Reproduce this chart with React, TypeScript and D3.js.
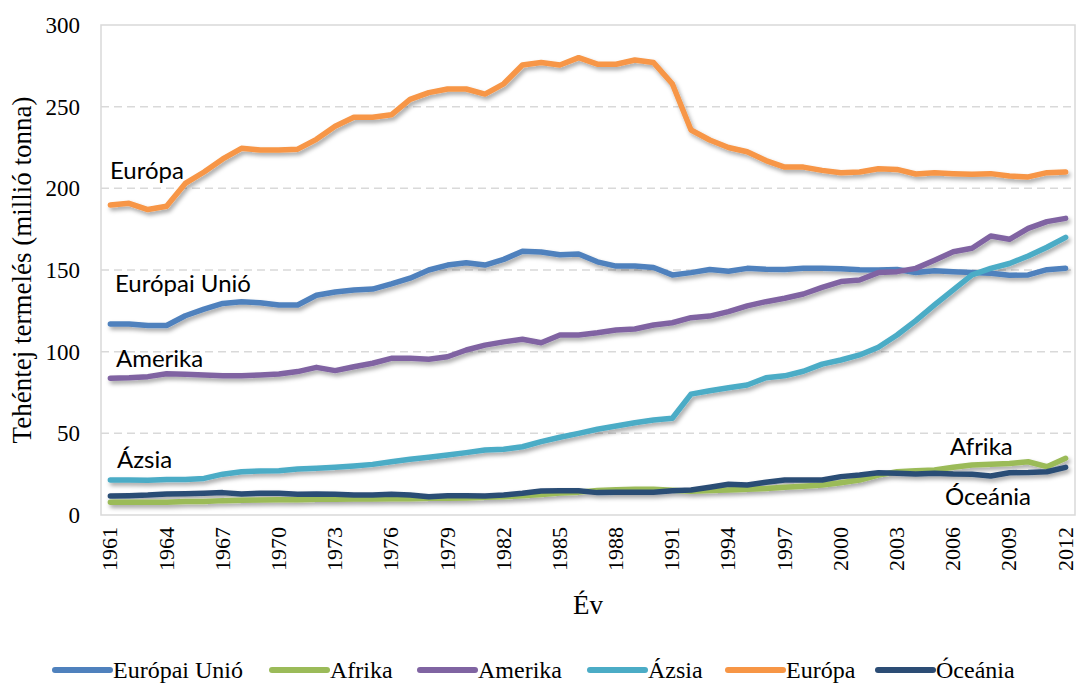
import React from "react";
import * as d3 from "d3";

const years: number[] = d3.range(1961, 2013);
const yTicks = [0, 50, 100, 150, 200, 250, 300];
const xTickYears = d3.range(1961, 2013, 3);

const euValues = [117,117,116,116,122,126,129.5,130.5,130,128.6,
  128.6,134.5,136.5,137.8,138.3,141.5,145,150,153,154.5,
  153,156.5,161.5,161,159.3,159.8,155,152.4,152.4,151.5,
  147,148.4,150.3,149.2,151,150.5,150.3,151,151,150.8,
  150.2,150,150.3,148.5,149.5,149,148.5,148,146.8,147,
  150.2,151];
const afrikaValues = [7.8,7.8,7.8,7.8,8.2,8.2,8.8,9,9.2,9.4,
  9.4,9.6,9.6,9.8,9.8,10,10,10.2,10.2,10.4,
  10.8,11.2,11.8,12.6,13.4,14,15,15.5,15.7,15.8,
  15.2,14.6,15,15.3,15.7,16.2,17,17.6,18.4,19.8,
  21.4,24.5,26.5,27.1,27.5,29.2,30.6,31,31.6,32.6,
  29.6,34.7];
const amerikaValues = [83.7,84,84.7,86.5,86.1,85.7,85.3,85.3,85.7,86.3,
  87.8,90.4,88.4,90.8,92.9,95.9,95.9,95.3,96.9,101,
  104,106,107.6,105.5,110.2,110.2,111.6,113.3,113.9,116.3,
  117.7,120.8,121.8,124.5,128,130.6,132.7,135.3,139.4,142.9,
  143.9,148.4,149,151,156,161.2,163.3,170.8,168.8,175.5,
  179.6,181.6];
const azsiaValues = [21.4,21.4,21.3,21.8,21.8,22.4,25,26.5,26.9,27.1,
  28.2,28.6,29.2,30,31,32.6,34.1,35.3,36.7,38.2,
  39.8,40.2,41.8,44.9,47.6,50,52.5,54.5,56.5,58.2,
  59.2,74,76.1,77.9,79.6,84,85.2,88,92.4,94.9,
  98,102.7,110.2,119,128.6,137.8,147,151,154,158.6,
  163.9,170];
const europaValues = [189.8,190.8,187,189,203,210,218,224.5,223.5,223.5,
  224,230,238,243.5,243.5,245,254.5,258.6,260.8,260.8,
  257.7,264,275.5,277,275.5,280,276,276,278.6,277,
  264,235.7,229.6,225,222.4,217,213,213,211,209.5,
  210,212,211.6,208.8,209.6,209,208.6,209,207.5,207,
  209.6,210];
const oceaniaValues = [11.6,11.8,12.2,12.9,13,13.3,13.7,12.9,13.3,13.3,
  12.7,12.9,12.7,12.2,12.2,12.7,12.2,11.2,11.8,11.8,
  11.6,12.2,13.3,14.7,14.9,14.9,13.7,13.9,13.9,13.9,
  14.9,15.3,17,18.8,18.4,20,21.4,21.4,21.4,23.5,
  24.5,25.9,25.5,25.1,25.5,25.1,25,23.9,25.9,26,
  26.5,29.2];

const seriesNames = ["Európai Unió", "Afrika", "Amerika", "Ázsia", "Európa", "Óceánia"];
const seriesColors = ["#4f81bd", "#9bbb59", "#8064a2", "#4bacc6", "#f79646", "#2c4d75"];
const seriesValues = [euValues, afrikaValues, amerikaValues, azsiaValues, europaValues, oceaniaValues];

// in-chart labels: [text, x, baseline y]
const inlineLabels: [string, number, number][] = [
  ["Európa", 110, 179],
  ["Európai Unió", 115, 292],
  ["Amerika", 116, 367],
  ["Ázsia", 117, 468],
  ["Afrika", 950, 455],
  ["Óceánia", 945, 505],
];

const legendX = [55, 272, 420, 590, 728, 878];

const W = 1077, H = 683;
const plot = { left: 101, right: 1075, top: 25, bottom: 515 };
const serif = "'Liberation Serif', 'Times New Roman', serif";
const sans = "Lato, 'Open Sans', sans-serif";

export default function App() {
  const x = d3.scalePoint<number>().domain(years).range([plot.left, plot.right]).padding(0.5);
  const y = d3.scaleLinear().domain([0, 300]).range([plot.bottom, plot.top]);
  const line = d3.line<number>().x((_, i) => x(years[i]) as number).y((d) => y(d));

  return (
    <svg width={W} height={H} style={{ position: "absolute", left: 0, top: 0, background: "#fff" }}>
      <defs>
        <filter id="shadow" x="-5%" y="-20%" width="110%" height="140%">
          <feDropShadow dx="2" dy="3" stdDeviation="2" floodColor="#000" floodOpacity="0.35" />
        </filter>
      </defs>
      <rect x={0} y={0} width={W} height={H} fill="#fff" />
      {/* gridlines */}
      {yTicks.filter((t) => t > 0 && t < 300).map((t) => (
        <line key={t} x1={plot.left} x2={plot.right} y1={y(t)} y2={y(t)} stroke="#d9d9d9" strokeWidth={1.5} strokeDasharray="8,5" />
      ))}
      <rect x={plot.left} y={plot.top} width={plot.right - plot.left} height={plot.bottom - plot.top} fill="none" stroke="#d9d9d9" strokeWidth={1.5} />
      {/* y tick labels */}
      {yTicks.map((t) => (
        <text key={t} x={80} y={y(t)} dy="0.35em" textAnchor="end" fontFamily={serif} fontSize={23} fill="#000">{t}</text>
      ))}
      {/* x tick labels */}
      {xTickYears.map((yr) => (
        <text key={yr} transform={`translate(${(x(yr) as number) + 7},${plot.bottom + 12}) rotate(-90)`} textAnchor="end" fontFamily={serif} fontSize={22} fill="#000">{yr}</text>
      ))}
      {/* axis titles */}
      <text transform={`translate(31,${(plot.top + plot.bottom) / 2}) rotate(-90)`} textAnchor="middle" fontFamily={serif} fontSize={27} fill="#000">Tehéntej termelés (millió tonna)</text>
      <text x={588} y={614} textAnchor="middle" fontFamily={serif} fontSize={27} fill="#000">Év</text>
      {/* series */}
      <g filter="url(#shadow)">
        {seriesValues.map((vals, i) => (
          <path key={seriesNames[i]} d={line(vals) || ""} fill="none" stroke={seriesColors[i]} strokeWidth={5.5} strokeLinejoin="round" strokeLinecap="round" />
        ))}
      </g>
      {/* inline labels */}
      {inlineLabels.map(([t, lx, ly]) => (
        <text key={t} x={lx} y={ly} fontFamily={sans} fontSize={24} fill="#000">{t}</text>
      ))}
      {/* legend */}
      {seriesNames.map((n, i) => (
        <g key={n}>
          <line x1={legendX[i]} x2={legendX[i] + 55} y1={670} y2={670} stroke={seriesColors[i]} strokeWidth={6} strokeLinecap="round" />
          <text x={legendX[i] + 58} y={678} fontFamily={serif} fontSize={24} fill="#000">{n}</text>
        </g>
      ))}
    </svg>
  );
}
